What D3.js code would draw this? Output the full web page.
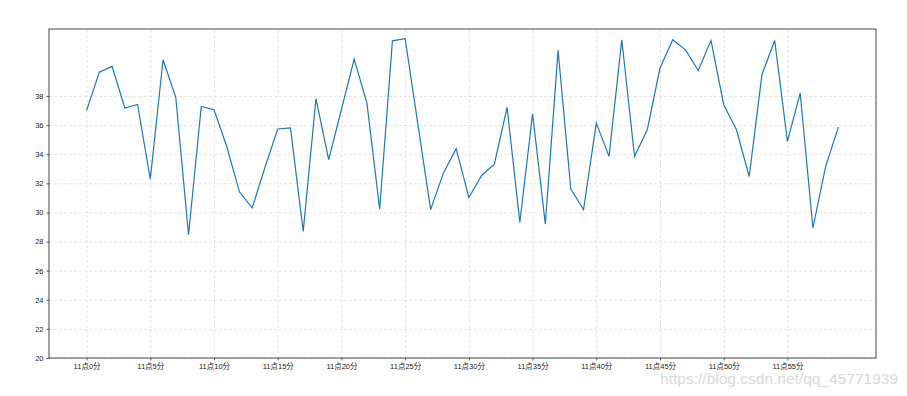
<!DOCTYPE html>
<html>
<head>
<meta charset="utf-8">
<title>Temperature by minute</title>
<style>
  body { margin: 0; background: #fff; }
  .tick text { font-family: "Liberation Sans", "Noto Sans CJK SC", sans-serif; font-size: 7.5px; fill: #222; }
  .grid line { stroke: #d4d4d4; stroke-dasharray: 3,2; stroke-width: 0.6; }
  .grid path { display: none; }
</style>
</head>
<body>
<script src="https://cdn.jsdelivr.net/npm/d3@7/dist/d3.min.js"></script>
<script>
// values, one per minute (11:00 .. 11:59)
var minutes = d3.range(0, 60);
var temps = [37.0, 39.64, 40.03, 37.17, 37.42, 32.29, 40.49, 37.9, 28.47, 37.28,
             37.05, 34.53, 31.4, 30.32, 33.1, 35.73, 35.8, 28.7, 37.81, 33.62,
             37.07, 40.53, 37.51, 30.23, 41.79, 41.93, 36.05, 30.19, 32.7, 34.38,
             31.03, 32.54, 33.32, 37.21, 29.31, 36.78, 29.2, 41.13, 31.6, 30.19,
             36.14, 33.85, 41.86, 33.85, 35.68, 39.92, 41.86, 41.17, 39.75, 41.81,
             37.4, 35.68, 32.47, 39.46, 41.81, 34.88, 38.2, 28.93, 33.16, 35.86];
var xTicks = d3.range(0, 60, 5);
var xTickLabels = xTicks.map(function(m) { return "11点" + m + "分"; });
var yTicks = d3.range(20, 40, 2);

var W = 907, H = 396;
var margin = { top: 29, right: 31, bottom: 38, left: 49 };
var width = W - margin.left - margin.right,
    height = H - margin.top - margin.bottom;

var svg = d3.select("body").append("svg")
    .attr("width", W)
    .attr("height", H);
var g = svg.append("g")
    .attr("transform", "translate(" + margin.left + "," + margin.top + ")");

// matplotlib-like 5% margins on x, bottom pinned to 20 by the ticks
var x = d3.scaleLinear().domain([-2.95, 61.95]).range([0, width]);
var y = d3.scaleLinear().domain([20, 42.6]).range([height, 0]);

// grid
g.append("g").attr("class", "grid")
  .attr("transform", "translate(0," + height + ")")
  .call(d3.axisBottom(x).tickValues(xTicks).tickSize(-height).tickFormat(""));
g.append("g").attr("class", "grid")
  .call(d3.axisLeft(y).tickValues(yTicks).tickSize(-width).tickFormat(""));

// line
var line = d3.line()
  .x(function(d, i) { return x(minutes[i]); })
  .y(function(d) { return y(d); });
g.append("path")
  .datum(temps)
  .attr("fill", "none")
  .attr("stroke", "#1f77b4")
  .attr("stroke-width", 1.2)
  .attr("d", line);

// axes
var xAxis = g.append("g")
  .attr("transform", "translate(0," + height + ")")
  .call(d3.axisBottom(x).tickValues(xTicks)
    .tickFormat(function(d, i) { return xTickLabels[i]; })
    .tickSize(2.5).tickPadding(3.5));
var yAxis = g.append("g")
  .call(d3.axisLeft(y).tickValues(yTicks).tickSize(2.5).tickPadding(3));
[xAxis, yAxis].forEach(function(a) {
  a.select(".domain").remove();
  a.selectAll(".tick line").attr("stroke", "#333").attr("stroke-width", 0.8);
});

// frame
g.append("rect")
  .attr("width", width).attr("height", height)
  .attr("fill", "none")
  .attr("stroke", "#333")
  .attr("stroke-width", 0.9);

// watermark
svg.append("text")
  .attr("x", 898).attr("y", 384)
  .attr("text-anchor", "end")
  .style("font-family", "Liberation Sans, sans-serif")
  .style("font-size", "15.5px")
  .style("fill", "#d9d9d9")
  .text("https://blog.csdn.net/qq_45771939");
</script>
</body>
</html>
